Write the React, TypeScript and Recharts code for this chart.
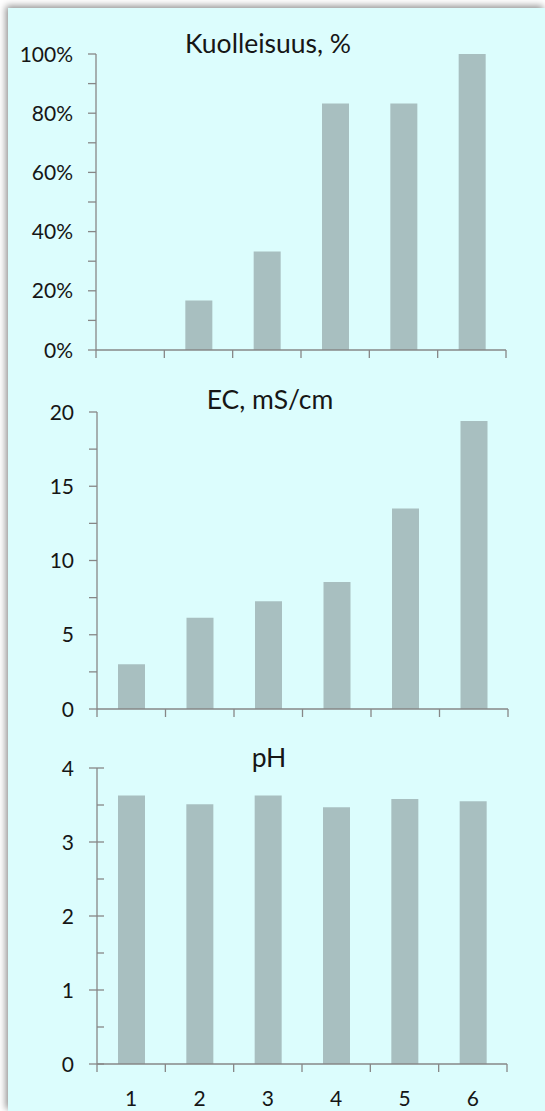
import React from 'react';
import { BarChart, Bar, XAxis, YAxis } from 'recharts';

// ---- data ----
const categories = [1, 2, 3, 4, 5, 6];
const mortality = [0, 16.7, 33.3, 83.3, 83.3, 100];
const ec = [3.02, 6.15, 7.25, 8.55, 13.5, 19.4];
const ph = [3.63, 3.51, 3.63, 3.47, 3.58, 3.55];

const mortalityTicks = [0, 10, 20, 30, 40, 50, 60, 70, 80, 90, 100];
const mortalityLabels = [0, 20, 40, 60, 80, 100];
const ecTicks = [0, 2.5, 5, 7.5, 10, 12.5, 15, 17.5, 20];
const ecLabels = [0, 5, 10, 15, 20];
const phTicks = [0, 0.5, 1, 1.5, 2, 2.5, 3, 3.5, 4];
const phLabels = [0, 1, 2, 3, 4];
const xTicks = [0.5, 1, 1.5, 2, 2.5, 3, 3.5, 4, 4.5, 5, 5.5, 6, 6.5];

const titles = ['Kuolleisuus, %', 'EC, mS/cm', 'pH'];

// ---- styles ----
const BG = '#dcfdfd';
const BAR = '#a8bfc0';
const AXIS = '#878787';
const TEXT = '#161616';
const FONT = 'Lato, "Open Sans", sans-serif';
const TICK_FS = 21;
const TITLE_FS = 26.5;
const W = 537;

const mortalityData = categories.map((c, i) => ({ x: c, v: mortality[i] }));
const ecData = categories.map((c, i) => ({ x: c, v: ec[i] }));
const phData = categories.map((c, i) => ({ x: c, v: ph[i] }));

function makeYTick(labels: number[], fmt: (v: number) => string, cross: boolean) {
  return (props: any) => {
    const { x, y, payload } = props;
    const v = payload.value;
    const major = labels.includes(v);
    let x1 = x - 8;
    let x2 = x;
    if (cross) {
      if (major) {
        x1 = x - 8;
        x2 = x + 7;
      } else {
        x1 = x;
        x2 = x + 7;
      }
    }
    return (
      <g>
        <line x1={x1} x2={x2} y1={y} y2={y} stroke={AXIS} strokeWidth={1.3} />
        {major && (
          <text
            x={x - 23}
            y={y}
            dy="0.36em"
            textAnchor="end"
            fontFamily={FONT}
            fontSize={TICK_FS}
            fill={TEXT}
          >
            {fmt(v)}
          </text>
        )}
      </g>
    );
  };
}

function makeXTick(showLabels: boolean) {
  return (props: any) => {
    const { x, y, payload } = props;
    const v = payload.value;
    const boundary = !Number.isInteger(v);
    if (boundary) {
      return <line x1={x} x2={x} y1={y} y2={y + 8} stroke={AXIS} strokeWidth={1.3} />;
    }
    if (!showLabels) return <g />;
    return (
      <text x={x} y={y + 42} textAnchor="middle" fontFamily={FONT} fontSize={TICK_FS} fill={TEXT}>
        {String(v)}
      </text>
    );
  };
}

type PanelProps = {
  data: { x: number; v: number }[];
  height: number;
  top: number;
  right: number;
  yWidth: number;
  xHeight: number;
  domain: [number, number];
  ticks: number[];
  labels: number[];
  fmt: (v: number) => string;
  cross: boolean;
  showX: boolean;
  offsetTop: number;
};

function Panel(p: PanelProps) {
  return (
    <div style={{ position: 'absolute', left: 0, top: p.offsetTop }}>
      <BarChart
        width={W}
        height={p.height}
        data={p.data}
        margin={{ top: p.top, right: p.right, bottom: 0, left: 0 }}
      >
        <XAxis
          dataKey="x"
          type="number"
          domain={[0.5, 6.5]}
          ticks={xTicks}
          interval={0}
          height={p.xHeight}
          tickSize={0}
          tickMargin={0}
          tickLine={false}
          axisLine={{ stroke: AXIS, strokeWidth: 1.3 }}
          tick={makeXTick(p.showX)}
          allowDecimals
        />
        <YAxis
          type="number"
          domain={p.domain}
          ticks={p.ticks}
          interval={0}
          width={p.yWidth}
          tickSize={0}
          tickMargin={0}
          tickLine={false}
          axisLine={{ stroke: AXIS, strokeWidth: 1.3 }}
          tick={makeYTick(p.labels, p.fmt, p.cross)}
          allowDecimals
        />
        <Bar dataKey="v" fill={BAR} barSize={27} isAnimationActive={false} />
      </BarChart>
    </div>
  );
}

export default function App() {
  return (
    <div style={{ padding: '8px 0 0 8px' }}>
      <style>{'html,body{margin:0;padding:0;overflow:hidden;}'}</style>
      <div
        style={{
          position: 'relative',
          width: W,
          height: 1103,
          background: BG,
          boxShadow: '-2px -2px 7px rgba(0,0,0,0.45)',
        }}
      >
        <Panel
          offsetTop={0}
          data={mortalityData}
          height={380}
          top={46}
          right={39}
          yWidth={88}
          xHeight={38}
          domain={[0, 100]}
          ticks={mortalityTicks}
          labels={mortalityLabels}
          fmt={(v) => `${v}%`}
          cross={false}
          showX={false}
        />
        <Panel
          offsetTop={370}
          data={ecData}
          height={355}
          top={34}
          right={37}
          yWidth={89}
          xHeight={24}
          domain={[0, 20]}
          ticks={ecTicks}
          labels={ecLabels}
          fmt={(v) => String(v)}
          cross={false}
          showX={false}
        />
        <Panel
          offsetTop={710}
          data={phData}
          height={393}
          top={50}
          right={38}
          yWidth={89}
          xHeight={47}
          domain={[0, 4]}
          ticks={phTicks}
          labels={phLabels}
          fmt={(v) => String(v)}
          cross={true}
          showX={true}
        />
        <svg
          width={W}
          height={1103}
          style={{ position: 'absolute', left: 0, top: 0, pointerEvents: 'none' }}
        >
          <text x={260} y={45} textAnchor="middle" fontFamily={FONT} fontSize={TITLE_FS} fill={TEXT}>
            {titles[0]}
          </text>
          <text x={262} y={401} textAnchor="middle" fontFamily={FONT} fontSize={TITLE_FS} fill={TEXT}>
            {titles[1]}
          </text>
          <text x={261} y={759} textAnchor="middle" fontFamily={FONT} fontSize={TITLE_FS} fill={TEXT}>
            {titles[2]}
          </text>
        </svg>
      </div>
    </div>
  );
}
